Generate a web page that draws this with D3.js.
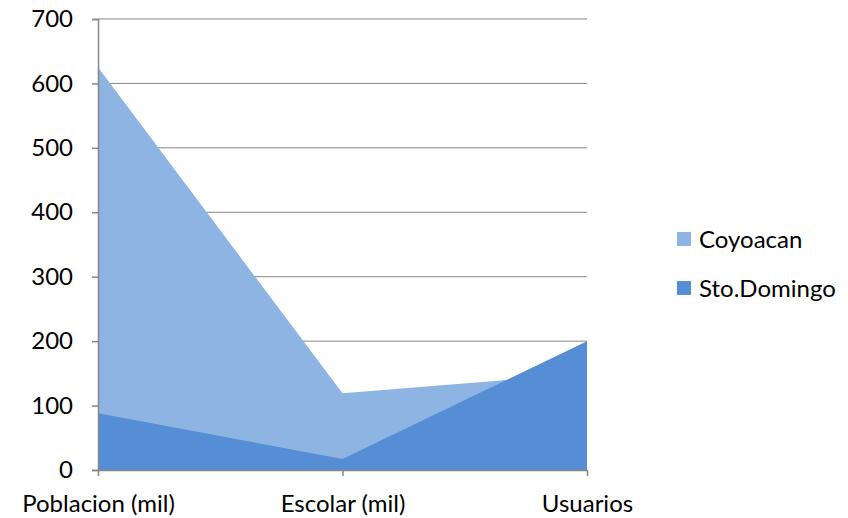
<!DOCTYPE html>
<html>
<head>
<meta charset="utf-8">
<script src="https://cdn.jsdelivr.net/npm/d3@7"></script>
<style>
  body { margin: 0; background: #fff; }
  svg { display: block; }
</style>
</head>
<body>
<div id="vis"><svg width="848" height="518"></svg></div>
<script>
const categories = ["Poblacion (mil)", "Escolar (mil)", "Usuarios"];
const seriesNames = ["Coyoacan", "Sto.Domingo"];
const coyoacan = [625, 119, 150];
const stoDomingo = [88, 17, 200];
const yTicks = [0, 100, 200, 300, 400, 500, 600, 700];
const colors = ["#8EB4E3", "#558ED5"];

const svg = d3.select("#vis").select("svg");
const font = "Lato, 'Open Sans', sans-serif";
const fontSize = 24;

const x = d3.scalePoint()
  .domain(categories)
  .range([98, 587]);
const y = d3.scaleLinear()
  .domain([0, 700])
  .range([470, 19]);

// gridlines
svg.append("g")
  .selectAll("line")
  .data(yTicks.filter((d) => d > 0))
  .join("line")
  .attr("x1", 98)
  .attr("x2", 587)
  .attr("y1", (d) => y(d))
  .attr("y2", (d) => y(d))
  .attr("stroke", "#868686")
  .attr("stroke-width", 1);

const area = d3.area()
  .x((d, i) => x(categories[i]))
  .y0(y(0))
  .y1((d) => y(d));

const allSeries = [coyoacan, stoDomingo];
svg.append("g")
  .selectAll("path")
  .data(allSeries)
  .join("path")
  .attr("d", area)
  .attr("fill", (d, i) => colors[i]);

// y axis
const yAxis = svg.append("g")
  .attr("transform", "translate(98,0)")
  .call(d3.axisLeft(y).tickValues(yTicks).tickSize(6).tickPadding(19).tickFormat(d3.format("d")));
yAxis.select(".domain").attr("stroke", "#868686").attr("stroke-width", 1.5);
yAxis.selectAll(".tick line").attr("stroke", "#868686").attr("stroke-width", 1.5);
yAxis.selectAll("text")
  .attr("font-family", font)
  .attr("font-size", fontSize)
  .attr("fill", "#000");

// x axis
const xAxis = svg.append("g")
  .attr("transform", `translate(0,${y(0)})`)
  .call(d3.axisBottom(x).tickSize(6).tickPadding(19).tickSizeOuter(0));
xAxis.select(".domain").attr("stroke", "#868686").attr("stroke-width", 1.5);
xAxis.selectAll(".tick line").attr("stroke", "#868686").attr("stroke-width", 1.5);
xAxis.selectAll("text")
  .attr("font-family", font)
  .attr("font-size", fontSize)
  .attr("fill", "#000");

// legend
const legend = svg.append("g")
  .selectAll("g")
  .data(seriesNames)
  .join("g")
  .attr("transform", (d, i) => `translate(677,${232 + i * 49})`);
legend.append("rect")
  .attr("width", 14)
  .attr("height", 14)
  .attr("fill", (d, i) => colors[i]);
legend.append("text")
  .attr("x", 22)
  .attr("y", 16)
  .attr("font-family", font)
  .attr("font-size", fontSize)
  .text((d) => d);
</script>
</body>
</html>
